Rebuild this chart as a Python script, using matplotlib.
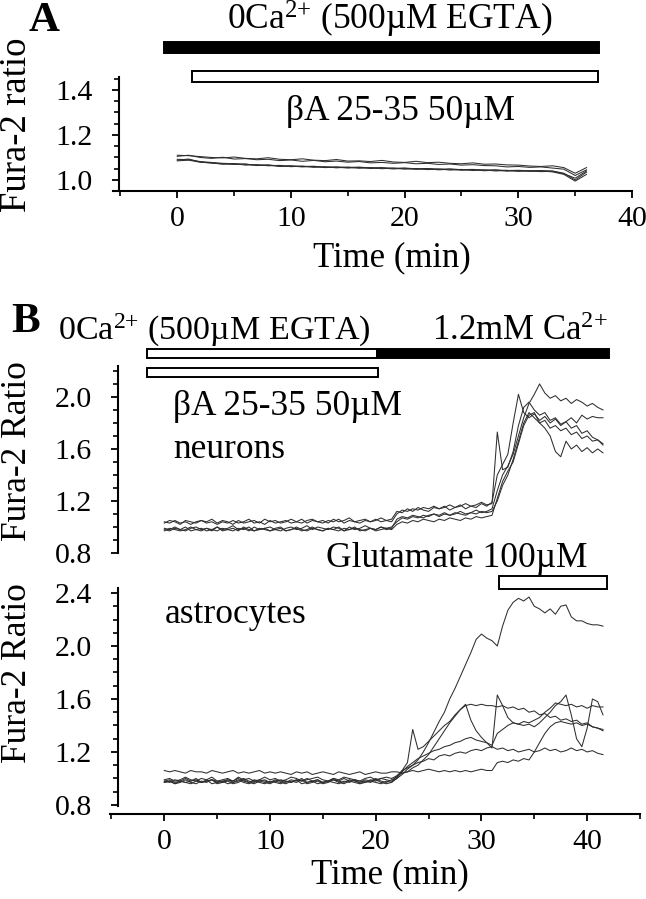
import numpy as np
import matplotlib
matplotlib.use("Agg")
import matplotlib.pyplot as plt
from matplotlib.patches import Rectangle
from matplotlib.ticker import MultipleLocator

plt.rcParams['font.family'] = ['Liberation Serif', 'DejaVu Serif']
plt.rcParams['mathtext.fontset'] = 'custom'
plt.rcParams['mathtext.rm'] = 'Liberation Serif'
plt.rcParams['mathtext.default'] = 'regular'

# ---- panel A: 0Ca + bA 25-35, t = 0..36 min (1 min steps) ----
a1 = [1.110, 1.108, 1.104, 1.100, 1.098, 1.102, 1.096, 1.094, 1.099, 1.092, 1.090,
      1.094, 1.088, 1.086, 1.091, 1.084, 1.085, 1.082, 1.087, 1.080, 1.078, 1.083,
      1.077, 1.079, 1.074, 1.072, 1.076, 1.070, 1.071, 1.067, 1.066, 1.062, 1.060,
      1.063, 1.055, 1.030, 1.055]
a2 = [1.105, 1.110, 1.100, 1.096, 1.101, 1.093, 1.095, 1.090, 1.092, 1.086, 1.089,
      1.083, 1.087, 1.081, 1.084, 1.079, 1.082, 1.076, 1.078, 1.074, 1.077, 1.072,
      1.074, 1.069, 1.071, 1.066, 1.068, 1.064, 1.063, 1.058, 1.060, 1.056, 1.058,
      1.053, 1.048, 1.020, 1.045]
a3 = [1.092, 1.090, 1.082, 1.078, 1.074, 1.072, 1.070, 1.066, 1.067, 1.062, 1.063,
      1.060, 1.061, 1.057, 1.058, 1.056, 1.057, 1.054, 1.055, 1.052, 1.053, 1.050,
      1.051, 1.048, 1.049, 1.046, 1.047, 1.044, 1.045, 1.042, 1.043, 1.041, 1.042,
      1.040, 1.030, 1.000, 1.035]
a4 = [1.088, 1.093, 1.080, 1.075, 1.072, 1.069, 1.071, 1.064, 1.066, 1.060, 1.062,
      1.058, 1.060, 1.055, 1.057, 1.053, 1.056, 1.051, 1.053, 1.049, 1.052, 1.047,
      1.050, 1.045, 1.048, 1.043, 1.046, 1.041, 1.044, 1.039, 1.042, 1.038, 1.040,
      1.036, 1.025, 0.995, 1.025]
a5 = [1.085, 1.088, 1.079, 1.076, 1.070, 1.073, 1.066, 1.068, 1.063, 1.065, 1.059,
      1.062, 1.056, 1.059, 1.054, 1.057, 1.052, 1.055, 1.050, 1.053, 1.048, 1.051,
      1.046, 1.049, 1.044, 1.047, 1.042, 1.045, 1.040, 1.043, 1.038, 1.041, 1.037,
      1.039, 1.028, 1.008, 1.040]
traces_a = [a1, a2, a3, a4, a5]

# ---- panel B: t = 0..41.5 min, 0.5 min steps ----
# each trace = baseline (0-21.5) + after Ca (22-31) + glutamate (31.5-41.5)
n1 = ([1.04, 1.03, 1.05, 1.03, 1.04, 1.02, 1.04, 1.05, 1.03, 1.04, 1.02,
       1.04, 1.03, 1.05, 1.03, 1.04, 1.06, 1.03, 1.04, 1.02, 1.05, 1.03,
       1.04, 1.05, 1.03, 1.04, 1.06, 1.03, 1.05, 1.04, 1.03, 1.05, 1.04,
       1.06, 1.03, 1.05, 1.04, 1.03, 1.05, 1.04, 1.06, 1.04, 1.05, 1.04]
      + [1.10, 1.13, 1.12, 1.14, 1.13, 1.15, 1.14, 1.16, 1.14, 1.15, 1.17,
         1.15, 1.16, 1.18, 1.16, 1.17, 1.19, 1.17, 1.18]
      + [1.73, 1.44, 1.46, 1.58, 1.78, 1.92, 1.96, 1.90, 1.86, 1.88, 1.82,
         1.84, 1.79, 1.81, 1.76, 1.78, 1.72, 1.74, 1.69, 1.67, 1.64])
n2 = ([1.03, 1.05, 1.04, 1.02, 1.05, 1.04, 1.03, 1.05, 1.04, 1.06, 1.03,
       1.05, 1.04, 1.02, 1.05, 1.03, 1.04, 1.05, 1.03, 1.06, 1.04, 1.05,
       1.03, 1.04, 1.06, 1.04, 1.03, 1.05, 1.06, 1.04, 1.05, 1.03, 1.06,
       1.04, 1.05, 1.07, 1.04, 1.05, 1.06, 1.04, 1.05, 1.07, 1.05, 1.06]
      + [1.12, 1.11, 1.14, 1.12, 1.15, 1.13, 1.12, 1.15, 1.14, 1.16, 1.13,
         1.15, 1.17, 1.14, 1.16, 1.15, 1.18, 1.16, 1.19]
      + [1.40, 1.48, 1.56, 1.80, 2.02, 1.88, 1.84, 1.87, 1.82, 1.85, 1.80,
         1.83, 1.78, 1.81, 1.84, 1.80, 1.86, 1.83, 1.85, 1.84, 1.84])
n3 = ([0.99, 0.98, 1.00, 0.98, 0.97, 0.99, 1.00, 0.98, 0.99, 0.97, 1.00,
       0.98, 0.99, 1.01, 0.98, 0.99, 0.97, 1.00, 0.98, 0.99, 1.00, 0.98,
       0.97, 0.99, 1.00, 0.98, 0.99, 1.01, 0.98, 1.00, 0.99, 0.98, 1.00,
       0.99, 0.97, 1.00, 0.98, 0.99, 1.01, 0.99, 0.98, 1.00, 0.99, 1.00]
      + [1.04, 1.07, 1.06, 1.08, 1.07, 1.09, 1.08, 1.10, 1.09, 1.11, 1.09,
         1.10, 1.12, 1.10, 1.11, 1.13, 1.11, 1.12, 1.14]
      + [1.28, 1.40, 1.47, 1.56, 1.70, 1.84, 1.95, 2.02, 2.10, 2.03, 1.99,
         2.01, 1.97, 1.99, 1.95, 1.98, 1.96, 1.93, 1.95, 1.92, 1.90])
n4 = ([0.98, 0.97, 0.99, 0.98, 1.00, 0.97, 0.98, 0.99, 0.97, 0.98, 1.00,
       0.97, 0.98, 0.99, 0.97, 1.00, 0.98, 0.97, 0.99, 0.98, 0.97, 0.99,
       1.00, 0.97, 0.98, 0.99, 0.97, 0.98, 1.00, 0.98, 0.97, 0.99, 0.98,
       0.97, 0.99, 0.98, 1.00, 0.97, 0.98, 0.99, 0.97, 0.98, 0.99, 0.98]
      + [1.02, 1.04, 1.03, 1.05, 1.04, 1.06, 1.05, 1.04, 1.06, 1.05, 1.07,
         1.06, 1.05, 1.07, 1.06, 1.08, 1.07, 1.08, 1.09]
      + [1.22, 1.35, 1.43, 1.50, 1.64, 1.78, 1.86, 1.88, 1.80, 1.76, 1.70,
         1.58, 1.54, 1.66, 1.60, 1.63, 1.58, 1.61, 1.57, 1.60, 1.57])
n5 = ([0.97, 0.99, 0.98, 0.97, 0.98, 1.00, 0.98, 0.97, 0.99, 0.98, 0.97,
       0.99, 0.98, 0.97, 0.99, 0.98, 1.00, 0.97, 0.98, 0.99, 0.97, 0.98,
       0.99, 0.97, 0.98, 1.00, 0.98, 0.97, 0.99, 0.98, 0.97, 0.99, 0.98,
       1.00, 0.97, 0.98, 0.99, 0.98, 0.97, 0.99, 0.98, 1.00, 0.98, 0.99]
      + [1.06, 1.08, 1.07, 1.09, 1.08, 1.07, 1.09, 1.10, 1.08, 1.10, 1.09,
         1.11, 1.10, 1.09, 1.11, 1.10, 1.12, 1.11, 1.12]
      + [1.20, 1.32, 1.40, 1.52, 1.66, 1.80, 1.88, 1.84, 1.80, 1.82, 1.76,
         1.78, 1.74, 1.76, 1.71, 1.73, 1.68, 1.70, 1.66, 1.67, 1.63])
neurons = [n1, n2, n3, n4, n5]

s1 = ([0.98, 0.99, 0.97, 0.98, 1.00, 0.98, 0.99, 0.97, 0.98, 0.99, 0.98,
       0.97, 0.99, 0.98, 1.00, 0.98, 0.97, 0.99, 0.98, 0.99, 0.97, 0.98,
       0.99, 0.98, 0.97, 0.99, 0.98, 1.00, 0.98, 0.99, 0.97, 0.98, 0.99,
       0.98, 1.00, 0.98, 0.99, 0.98, 0.97, 0.99, 0.98, 1.00, 0.99, 0.98]
      + [1.00, 1.03, 1.07, 1.10, 1.14, 1.20, 1.27, 1.35, 1.43, 1.50, 1.60,
         1.68, 1.77, 1.86, 1.95, 2.05, 2.09, 2.06, 2.04]
      + [2.00, 2.15, 2.27, 2.33, 2.36, 2.34, 2.37, 2.30, 2.28, 2.25, 2.28,
         2.24, 2.30, 2.31, 2.22, 2.19, 2.19, 2.17, 2.16, 2.16, 2.15])
s2 = ([1.06, 1.05, 1.06, 1.05, 1.04, 1.06, 1.05, 1.05, 1.04, 1.06, 1.05,
       1.04, 1.05, 1.06, 1.04, 1.05, 1.04, 1.05, 1.06, 1.04, 1.05, 1.04,
       1.05, 1.04, 1.03, 1.05, 1.04, 1.05, 1.03, 1.04, 1.05, 1.04, 1.03,
       1.05, 1.04, 1.03, 1.04, 1.05, 1.03, 1.04, 1.05, 1.04, 1.04, 1.05]
      + [1.05, 1.04, 1.05, 1.06, 1.05, 1.06, 1.07, 1.06, 1.05, 1.06, 1.05,
         1.06, 1.05, 1.06, 1.05, 1.06, 1.07, 1.06, 1.06]
      + [1.12, 1.13, 1.12, 1.14, 1.13, 1.15, 1.14, 1.20, 1.27, 1.34, 1.39,
         1.42, 1.43, 1.42, 1.41, 1.42, 1.40, 1.41, 1.39, 1.38, 1.37])
s3 = ([0.97, 0.98, 0.96, 0.97, 0.99, 0.97, 0.96, 0.98, 0.97, 0.99, 0.96,
       0.97, 0.98, 0.96, 0.97, 0.99, 0.97, 0.96, 0.98, 0.97, 0.96, 0.98,
       0.97, 0.96, 0.98, 0.97, 0.99, 0.96, 0.97, 0.98, 0.96, 0.97, 0.99,
       0.97, 0.96, 0.98, 0.97, 0.96, 0.98, 0.97, 0.99, 0.97, 0.96, 0.97]
      + [1.00, 1.06, 1.12, 1.37, 1.22, 1.24, 1.28, 1.32, 1.36, 1.40, 1.43,
         1.48, 1.52, 1.56, 1.44, 1.36, 1.31, 1.27, 1.23]
      + [1.63, 1.55, 1.46, 1.42, 1.41, 1.40, 1.41, 1.39, 1.42, 1.46, 1.50,
         1.55, 1.58, 1.63, 1.48, 1.30, 1.24, 1.38, 1.60, 1.58, 1.48])
s4 = ([0.99, 1.00, 0.98, 0.99, 1.01, 0.99, 0.98, 1.00, 0.99, 1.01, 0.98,
       0.99, 1.00, 0.98, 1.01, 0.99, 1.00, 0.98, 0.99, 1.01, 0.99, 1.00,
       0.98, 0.99, 1.01, 1.00, 0.98, 0.99, 1.00, 1.01, 0.99, 0.98, 1.00,
       0.99, 1.01, 1.00, 0.99, 0.98, 1.00, 1.01, 0.99, 1.00, 1.01, 1.00]
      + [1.02, 1.04, 1.05, 1.08, 1.10, 1.14, 1.18, 1.24, 1.30, 1.36, 1.42,
         1.47, 1.52, 1.55, 1.56, 1.55, 1.56, 1.55, 1.55]
      + [1.54, 1.55, 1.53, 1.54, 1.52, 1.53, 1.50, 1.51, 1.48, 1.49, 1.46,
         1.47, 1.44, 1.45, 1.43, 1.44, 1.41, 1.42, 1.39, 1.38, 1.36])
s5 = ([0.98, 0.97, 0.99, 0.98, 0.97, 0.98, 1.00, 0.97, 0.98, 0.99, 0.97,
       0.98, 0.99, 0.97, 0.98, 1.00, 0.98, 0.97, 0.99, 0.98, 0.97, 0.99,
       0.98, 0.97, 0.99, 0.98, 1.00, 0.97, 0.98, 0.99, 0.97, 0.98, 1.00,
       0.98, 0.97, 0.99, 0.98, 0.97, 0.99, 0.98, 1.00, 0.98, 0.97, 0.99]
      + [1.01, 1.05, 1.09, 1.12, 1.15, 1.17, 1.19, 1.21, 1.22, 1.24, 1.25,
         1.27, 1.28, 1.30, 1.31, 1.29, 1.28, 1.27, 1.25]
      + [1.34, 1.37, 1.40, 1.42, 1.41, 1.43, 1.42, 1.44, 1.46, 1.50, 1.53,
         1.57, 1.56, 1.55, 1.56, 1.54, 1.55, 1.53, 1.55, 1.54, 1.54])
s6 = ([0.97, 0.98, 0.96, 0.98, 0.97, 0.96, 0.98, 0.97, 0.99, 0.96, 0.97,
       0.98, 0.96, 0.97, 0.99, 0.97, 0.96, 0.98, 0.97, 0.96, 0.98, 0.97,
       0.96, 0.98, 0.97, 0.99, 0.96, 0.97, 0.98, 0.96, 0.97, 0.98, 0.97,
       0.96, 0.98, 0.97, 0.99, 0.96, 0.97, 0.98, 0.97, 0.96, 0.98, 0.97]
      + [1.02, 1.06, 1.08, 1.10, 1.12, 1.13, 1.15, 1.14, 1.17, 1.18, 1.17,
         1.19, 1.20, 1.19, 1.21, 1.22, 1.21, 1.23, 1.24]
      + [1.22, 1.23, 1.21, 1.22, 1.20, 1.21, 1.22, 1.20, 1.21, 1.23, 1.21,
         1.22, 1.20, 1.21, 1.23, 1.21, 1.22, 1.20, 1.21, 1.19, 1.18])
astros = [s1, s2, s3, s4, s5, s6]

# treatment bars (min)
a_egta = (-1.16, 37.1)
a_abeta = (1.27, 37.0)
b_egta = (-1.65, 20.1)
b_ca = (20.1, 42.06)
b_abeta = (-1.65, 20.2)
b_glu = (31.7, 41.9)

W, H = 646, 899
fig = plt.figure(figsize=(W / 100, H / 100), dpi=100)


def box(x0, y0, x1, y1):
    # pixel box (from top-left) -> figure rect
    return [x0 / W, 1 - y1 / H, (x1 - x0) / W, (y1 - y0) / H]


def ftext(x, y, s, **kw):
    fig.text(x / W, 1 - y / H, s, **kw)


def style(ax, spine_x):
    for s in ['top', 'right']:
        ax.spines[s].set_visible(False)
    for s in ['left', 'bottom']:
        ax.spines[s].set_linewidth(1.5)
    ax.spines['left'].set_position(('data', spine_x))
    ax.tick_params(which='major', direction='out', length=5, width=1.3,
                   labelsize=21.5)
    ax.tick_params(which='minor', direction='out', length=3.5, width=1.2)
    ax.tick_params(axis='y', pad=14)
    ax.tick_params(axis='x', pad=6)


def bar(ax, span, y0, y1, filled):
    ax.add_patch(Rectangle((span[0], y0), span[1] - span[0], y1 - y0,
                           facecolor='black' if filled else 'white',
                           edgecolor='black', lw=1.4, clip_on=False, zorder=5))


tr_kw = dict(color='#2e2e2e', lw=0.75)
ca = '0Ca$^{2{+}}$ (500µM EGTA)'

# ---------------- A ----------------
axA = fig.add_axes(box(112.5, 76.7, 632, 191))
t_a = np.arange(len(a1))
for y in traces_a:
    axA.plot(t_a, y, **tr_kw)
axA.set_xlim(-5.7, 40)
axA.set_ylim(0.951, 1.459)
style(axA, -5.15)
axA.set_xticks([0, 10, 20, 30, 40])
axA.xaxis.set_minor_locator(MultipleLocator(5))
axA.set_yticks([1.0, 1.2, 1.4])
axA.set_yticklabels(['1.0', '1.2', '1.4'])
axA.yaxis.set_minor_locator(MultipleLocator(0.05))
bar(axA, a_egta, 1.563, 1.615, True)
bar(axA, a_abeta, 1.437, 1.484, False)

ftext(44, 21, 'A', fontsize=31, fontweight='bold', ha='center', va='center')
ftext(390, 30, ca, fontsize=25.5, ha='center', va='baseline')
ftext(400, 120, 'βA 25-35 50µM', fontsize=25.5, ha='center', va='baseline')
ftext(17, 125, 'Fura-2 ratio', fontsize=26.5, rotation=90, ha='center', va='center')
ftext(392, 258, 'Time (min)', fontsize=25, ha='center', va='center')

# ---------------- B neurons ----------------
axN = fig.add_axes(box(110.4, 366, 640, 553))
t_b = np.arange(len(n1)) * 0.5
for y in neurons:
    axN.plot(t_b, y, **tr_kw)
axN.set_xlim(-5.1, 45)
axN.set_ylim(0.8, 2.238)
style(axN, -4.34)
axN.spines['bottom'].set_visible(False)
axN.set_xticks([])
axN.set_yticks([0.8, 1.2, 1.6, 2.0])
axN.set_yticklabels(['0.8', '1.2', '1.6', '2.0'])
axN.yaxis.set_minor_locator(MultipleLocator(0.1))
bar(axN, b_egta, 2.300, 2.369, False)
bar(axN, b_ca, 2.300, 2.369, True)
bar(axN, b_abeta, 2.154, 2.223, False)

# ---------------- B astrocytes ----------------
axS = fig.add_axes(box(110.4, 588, 640, 806))
for y in astros:
    axS.plot(t_b, y, **tr_kw)
axS.set_xlim(-5.1, 45)
axS.set_ylim(0.792, 2.438)
style(axS, -4.34)
axS.spines['bottom'].set_position(('outward', 5.8))
axS.set_xticks([0, 10, 20, 30, 40])
axS.xaxis.set_minor_locator(MultipleLocator(5))
axS.set_yticks([0.8, 1.2, 1.6, 2.0, 2.4])
axS.set_yticklabels(['0.8', '1.2', '1.6', '2.0', '2.4'])
axS.yaxis.set_minor_locator(MultipleLocator(0.1))
bar(axS, b_glu, 2.432, 2.53, False)

ftext(26, 322, 'B', fontsize=31, fontweight='bold', ha='center', va='center')
ftext(57.7, 340, ca, fontsize=24.5, ha='left', va='baseline')
ftext(607.7, 340, '1.2mM Ca$^{2{+}}$', fontsize=25, ha='right', va='baseline')
ftext(173, 415, 'βA 25-35 50µM', fontsize=25.5, ha='left', va='baseline')
ftext(173, 458, 'neurons', fontsize=25.5, ha='left', va='baseline')
ftext(325.5, 567, 'Glutamate 100µM', fontsize=25.5, ha='left', va='baseline')
ftext(165, 623, 'astrocytes', fontsize=25.5, ha='left', va='baseline')
ftext(17.5, 451, 'Fura-2 Ratio', fontsize=25.5, rotation=90, ha='center', va='center')
ftext(17.5, 673, 'Fura-2 Ratio', fontsize=25.5, rotation=90, ha='center', va='center')
ftext(390, 875, 'Time (min)', fontsize=25, ha='center', va='center')

fig.savefig('out.png', dpi=100)
